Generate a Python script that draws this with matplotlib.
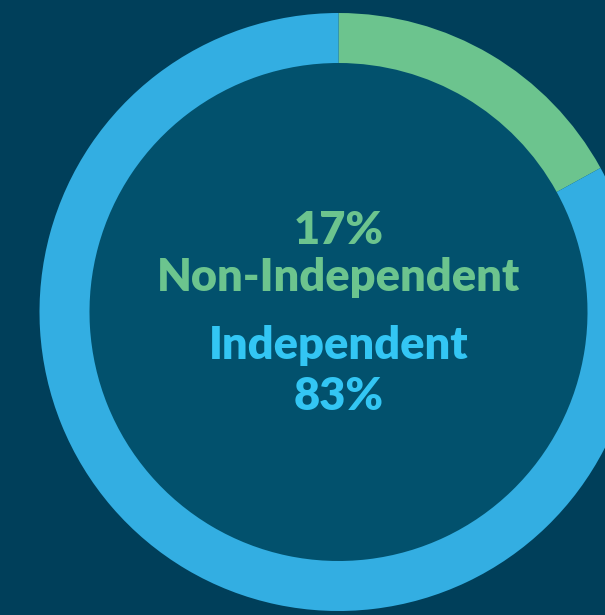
import matplotlib
matplotlib.use("Agg")
import matplotlib.pyplot as plt
from matplotlib.patches import Circle

categories = ["Non-Independent", "Independent"]
shares = [17, 83]
ring_colors = ["#6cc48e", "#33aee2"]
text_colors = ["#6cc48e", "#33c6f4"]

W, H = 605, 615
fig = plt.figure(figsize=(W / 100, H / 100), dpi=100)
fig.patch.set_facecolor("#003f5a")
ax = fig.add_axes([0, 0, 1, 1])
ax.set_xlim(0, W)
ax.set_ylim(0, H)
ax.set_aspect("equal")
ax.axis("off")

cx, cy = 338.5, H - 312
r_out, ring_w = 299, 50

ax.add_patch(Circle((cx, cy), r_out - ring_w + 1, color="#02516d", zorder=0))
ax.pie(shares, colors=ring_colors, startangle=90, counterclock=False,
       center=(cx, cy), radius=r_out, frame=True,
       wedgeprops=dict(width=ring_w, linewidth=0))
ax.set_xlim(0, W)
ax.set_ylim(0, H)
ax.axis("off")

font = dict(family="Lato", weight="heavy", fontsize=32.5, ha="center", va="center")
ax.text(cx, H - 231, f"{shares[0]}%", color=text_colors[0], **font)
ax.text(cx, H - 277, categories[0], color=text_colors[0], **font)
ax.text(cx, H - 346, categories[1], color=text_colors[1], **font)
ax.text(cx, H - 397, f"{shares[1]}%", color=text_colors[1], **font)

fig.savefig("out.png", dpi=100, facecolor=fig.get_facecolor())
